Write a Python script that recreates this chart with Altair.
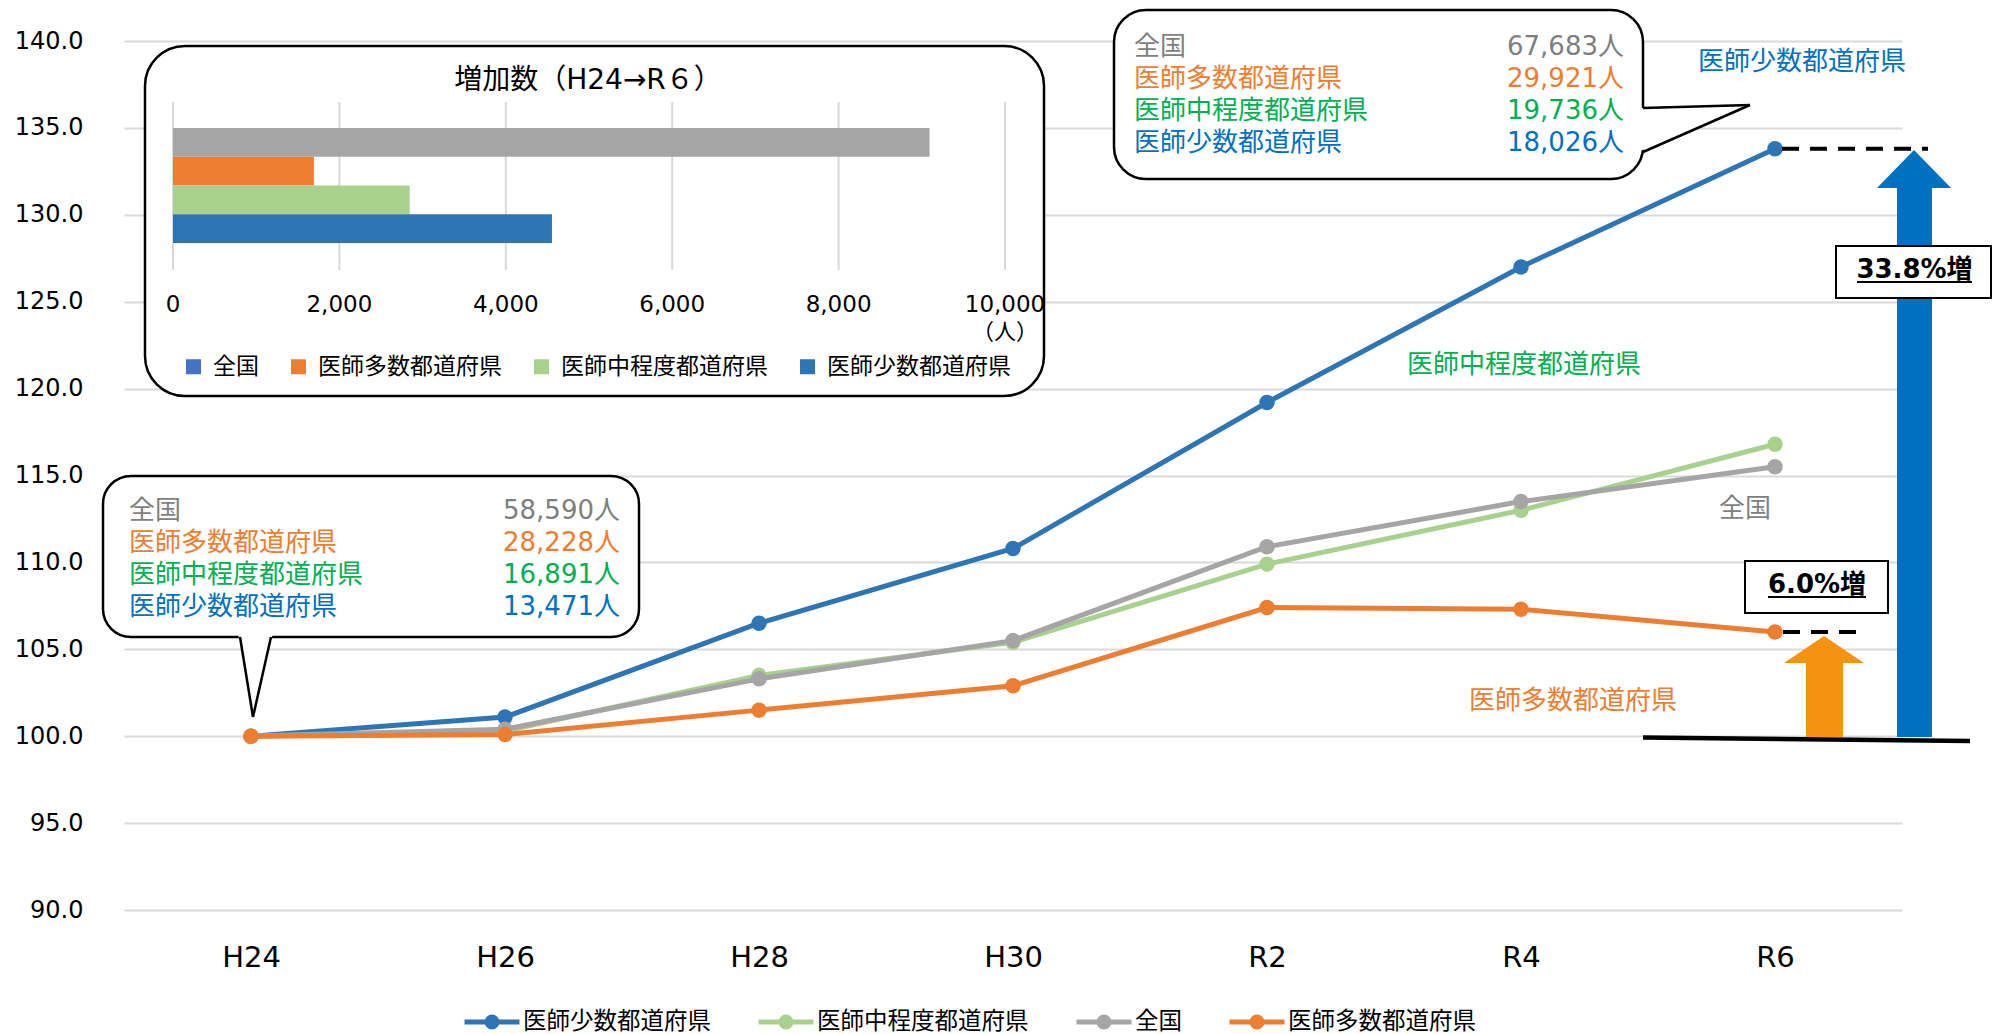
import altair as alt
import pandas as pd

# ---------------- data ----------------
PERIODS = ["H24", "H26", "H28", "H30", "R2", "R4", "R6"]
SERIES = ["医師少数都道府県", "医師中程度都道府県", "全国", "医師多数都道府県"]
INDEX_FEW = [100.0, 101.1, 106.5, 110.8, 119.2, 127.0, 133.8]
INDEX_MID = [100.0, 100.3, 103.5, 105.4, 109.9, 113.0, 116.8]
INDEX_NATIONAL = [100.0, 100.4, 103.3, 105.5, 110.9, 113.5, 115.5]
INDEX_MANY = [100.0, 100.1, 101.5, 102.9, 107.4, 107.3, 106.0]
LINE_COLORS = ["#2E75B6", "#A9D18E", "#A5A5A5", "#ED7D31"]
Y_TICKS = [90, 95, 100, 105, 110, 115, 120, 125, 130, 135, 140]

GROUPS = ["全国", "医師多数都道府県", "医師中程度都道府県", "医師少数都道府県"]
DOCTORS_H24 = [58590, 28228, 16891, 13471]
DOCTORS_R6 = [67683, 29921, 19736, 18026]
GROUP_TEXT_COLORS = ["#7F7F7F", "#ED7D31", "#00B050", "#0070C0"]
BAR_COLORS = ["#A5A5A5", "#ED7D31", "#A9D18E", "#2E75B6"]
BAR_KEY_COLORS = ["#4472C4", "#ED7D31", "#A9D18E", "#2E75B6"]
BAR_TICKS = [0, 2000, 4000, 6000, 8000, 10000]
INSET_TITLE = "増加数（H24→R６）"
UNIT_LABEL = "（人）"
RISE_FEW = "33.8%増"
RISE_MANY = "6.0%増"

# ---------------- styling ----------------
CJK = "Noto Sans CJK JP"
NUM = "DejaVu Sans, Noto Sans CJK JP"
W, H = 1778, 869
text_color = dict(zip(GROUPS, GROUP_TEXT_COLORS))

index_by_series = dict(zip(SERIES, [INDEX_FEW, INDEX_MID, INDEX_NATIONAL, INDEX_MANY]))
line_df = pd.DataFrame(
    [{"period": p, "series": s, "value": v}
     for s in SERIES for p, v in zip(PERIODS, index_by_series[s])]
)
bar_df = pd.DataFrame({
    "group": GROUPS,
    "increase": [b - a for a, b in zip(DOCTORS_H24, DOCTORS_R6)],
})
tick_df = pd.DataFrame({"tick": BAR_TICKS})
ONE = pd.DataFrame({"k": [0]})


# ---------------- helpers for annotation shapes ----------------
def rect(x1, x2, y1, y2, fill="white", stroke=None, sw=2.5, radius=0):
    kw = dict(fill=fill, cornerRadius=radius)
    if stroke:
        kw.update(stroke=stroke, strokeWidth=sw)
    else:
        kw.update(strokeWidth=0)
    return alt.Chart(ONE).mark_rect(**kw).encode(
        x=alt.value(x1), x2=alt.value(x2), y=alt.value(y1), y2=alt.value(y2)
    )


def seg(x1, y1, x2, y2, sw=2.5, color="black", dash=None):
    kw = dict(color=color, strokeWidth=sw)
    if dash:
        kw["strokeDash"] = dash
    return alt.Chart(ONE).mark_rule(**kw).encode(
        x=alt.value(x1), y=alt.value(y1), x2=alt.value(x2), y2=alt.value(y2)
    )


def text(x, y, s, color="black", size=26, font=CJK, align="center", weight="normal"):
    return alt.Chart(ONE).mark_text(
        font=font, fontSize=size, color=color, align=align, baseline="middle",
        fontWeight=weight,
    ).encode(x=alt.value(x), y=alt.value(y), text=alt.value(s))


def polygon(points, color):
    xs = [p[0] for p in points]
    ys = [p[1] for p in points]
    cx, cy = (min(xs) + max(xs)) / 2, (min(ys) + max(ys)) / 2
    half = max(max(xs) - min(xs), max(ys) - min(ys)) / 2
    path = "M" + " L".join(f"{(x - cx) / half:.4f},{(y - cy) / half:.4f}" for x, y in points) + " Z"
    return alt.Chart(ONE).mark_point(
        shape=path, size=(2 * half) ** 2, filled=True, fill=color, opacity=1, strokeOpacity=0
    ).encode(x=alt.value(cx), y=alt.value(cy))


# ---------------- main index lines ----------------
legend_symbol = "M-1,0L1,0M0.18,0A0.18,0.18,0,1,1,-0.18,0A0.18,0.18,0,1,1,0.18,0"
main_legend = alt.Legend(
    title=None, orient="none", legendX=338, legendY=951, direction="horizontal",
    symbolType=legend_symbol, symbolSize=3025, symbolStrokeWidth=5,
    labelFont=CJK, labelFontSize=23.5, labelColor="black", labelOffset=1,
    columnPadding=37, padding=0, labelLimit=0,
)
x_enc = alt.X(
    "period:O", sort=PERIODS, scale=alt.Scale(type="point", padding=0.5),
    axis=alt.Axis(title=None, domain=False, ticks=False, grid=False, labelAngle=0,
                  labelFont=NUM, labelFontSize=29, labelColor="black", labelPadding=33),
)
y_enc = alt.Y(
    "value:Q", scale=alt.Scale(domain=[90, 140], nice=False),
    axis=alt.Axis(title=None, values=Y_TICKS, format=".1f", domain=False, ticks=False,
                  grid=True, gridColor="#D9D9D9", gridWidth=2,
                  labelFont=NUM, labelFontSize=24, labelColor="black", labelPadding=41),
)
c_enc = alt.Color("series:N", scale=alt.Scale(domain=SERIES, range=LINE_COLORS), legend=main_legend)

series_layers = []
for s in SERIES:
    base = alt.Chart(line_df).transform_filter(alt.datum.series == s).encode(x=x_enc, y=y_enc, color=c_enc)
    series_layers.append(base.mark_line(strokeWidth=5))
    series_layers.append(base.mark_circle(size=240, opacity=1))

# dashed guides at the R6 level, arrows and percentage boxes
dash_few = alt.Chart(ONE).mark_rule(color="black", strokeWidth=4, strokeDash=[17, 11]).encode(
    x=alt.value(1658), x2=alt.value(1804), y=alt.Y(datum=INDEX_FEW[-1]))
dash_many = alt.Chart(ONE).mark_rule(color="black", strokeWidth=4, strokeDash=[17, 11]).encode(
    x=alt.value(1659), x2=alt.value(1733), y=alt.Y(datum=INDEX_MANY[-1]))

arrows = [
    rect(1773, 1808, 146, 696, fill="#0070C0"),
    polygon([(1753, 147), (1827, 147), (1790, 109)], "#0070C0"),
    rect(1682, 1719, 621, 696, fill="#F5920F"),
    polygon([(1660, 622), (1740, 622), (1700, 595)], "#F5920F"),
    seg(1519, 696.5, 1846, 700, sw=4.5),
]

pct_boxes = [
    rect(1712, 1867, 205, 257, stroke="black", sw=2),
    text(1790.5, 229, RISE_FEW, size=26, font=NUM, weight="bold"),
    seg(1733, 241, 1848, 241, sw=2),
    rect(1621, 1764, 520, 572, stroke="black", sw=2),
    text(1693, 544, RISE_MANY, size=26, font=NUM, weight="bold"),
    seg(1644, 556, 1742, 556, sw=2),
]

# callout with H24 doctor counts
callout_h24 = [
    rect(-21, 515, 435, 596, stroke="black", sw=2.5, radius=28),
    polygon([(114, 592), (129, 676), (149, 592)], "white"),
    seg(116, 596, 129, 676), seg(129, 676, 147, 596),
]
for i, (g, n) in enumerate(zip(GROUPS, DOCTORS_H24)):
    y = 470 + 32 * i
    callout_h24.append(text(5, y, g, color=text_color[g], align="left"))
    callout_h24.append(text(496, y, f"{n:,}人", color=text_color[g], font=NUM, align="right"))

# callout with R6 doctor counts
callout_r6 = [
    rect(990, 1519, -31, 138, stroke="black", sw=2.5, radius=32),
    polygon([(1514, 67), (1626, 64), (1514, 111)], "white"),
    seg(1519, 67, 1626, 64), seg(1626, 64, 1519, 111),
]
for i, (g, n) in enumerate(zip(GROUPS, DOCTORS_R6)):
    y = 6 + 32 * i
    callout_r6.append(text(1010, y, g, color=text_color[g], align="left"))
    callout_r6.append(text(1500, y, f"{n:,}人", color=text_color[g], font=NUM, align="right"))

# series names next to the lines
series_names = [
    text(1678, 21, SERIES[0], color=text_color[SERIES[0]]),
    text(1400, 324, SERIES[1], color=text_color[SERIES[1]]),
    text(1621, 468, SERIES[2], color=text_color[SERIES[2]]),
    text(1449, 660, SERIES[3], color=text_color[SERIES[3]]),
]

inset_frame = [
    rect(21, 920, 5, 355, stroke="black", sw=2.5, radius=40),
    text(464, 40, INSET_TITLE, size=28, font=NUM),
    text(881, 291, UNIT_LABEL, size=22),
]

main = alt.layer(
    *arrows, *series_layers, dash_few, dash_many, *pct_boxes,
    *callout_h24, *callout_r6, *series_names, *inset_frame,
)

# ---------------- inset: increase in doctors H24 -> R6 ----------------
inset_x = alt.Scale(domain=[0, 10000], range=[49, 881], nice=False)
inset_y = alt.Scale(domain=GROUPS, range=[87, 202], paddingInner=0, paddingOuter=0)

inset_grid = alt.Chart(tick_df).mark_rule(color="#D9D9D9", strokeWidth=2).encode(
    x=alt.X("tick:Q", scale=inset_x, axis=None), y=alt.value(61), y2=alt.value(229))
inset_ticks = alt.Chart(tick_df).mark_text(font=NUM, fontSize=23, color="black", baseline="middle").encode(
    x=alt.X("tick:Q", scale=inset_x, axis=None), y=alt.value(263.5),
    text=alt.Text("tick:Q", format=","))
inset_bars = alt.Chart(bar_df).mark_bar().encode(
    x=alt.X("increase:Q", scale=inset_x, axis=None),
    y=alt.Y("group:N", scale=inset_y, axis=None, sort=None),
    fill=alt.Fill("group:N", scale=alt.Scale(domain=GROUPS, range=BAR_COLORS), legend=None),
)
inset_key = alt.Chart(bar_df).mark_square(opacity=0).encode(
    x=alt.X("increase:Q", scale=inset_x, axis=None),
    y=alt.Y("group:N", scale=inset_y, axis=None, sort=None),
    color=alt.Color("group:N", scale=alt.Scale(domain=GROUPS, range=BAR_KEY_COLORS),
                    legend=alt.Legend(title=None, orient="none", legendX=58, legendY=314,
                                      direction="horizontal", symbolType="square",
                                      symbolSize=225, symbolOpacity=1, symbolStrokeWidth=0,
                                      labelFont=CJK, labelFontSize=23, labelColor="black",
                                      labelOffset=8, columnPadding=28, padding=0,
                                      labelLimit=0)),
)
inset = alt.layer(inset_grid, inset_ticks, inset_bars, inset_key)

chart = alt.layer(main, inset).resolve_scale(
    x="independent", y="independent", color="independent"
).properties(
    width=W, height=H,
    autosize=alt.AutoSizeParams(type="none"),
    padding={"left": 124, "top": 41, "right": 90, "bottom": 124},
    background="white",
).configure_view(stroke=None)

chart.save("out.html", embed_options={"renderer": "svg", "actions": False})
